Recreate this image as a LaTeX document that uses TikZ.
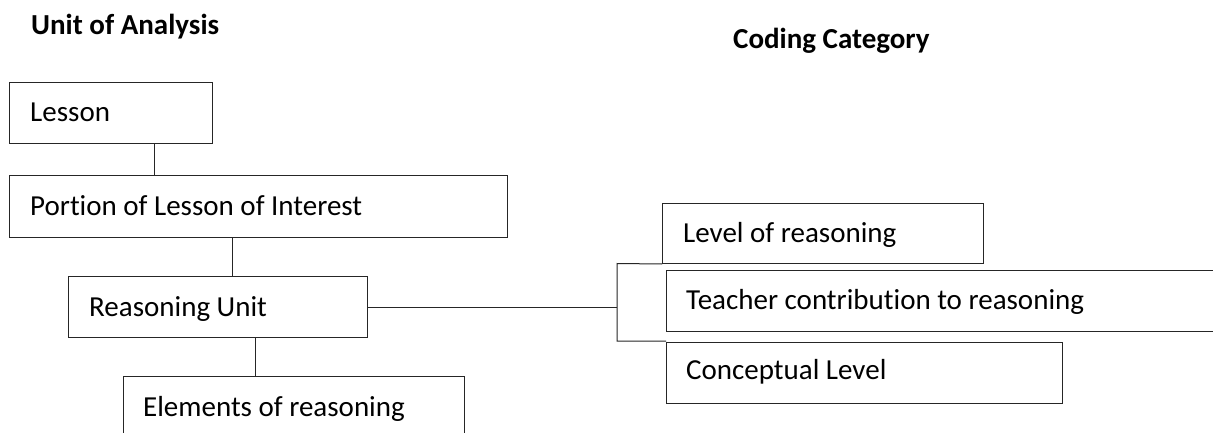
\documentclass[tikz,border=0pt]{standalone}
\usepackage{fontspec}
\setmainfont{Carlito}[Ligatures=NoCommon]
\begin{document}
\begin{tikzpicture}[x=1pt,y=-1pt,
  box/.style={draw=black!85, line width=1pt, inner sep=0pt, anchor=north west},
  lbl/.style={anchor=base west, inner sep=0pt, font=\fontsize{29}{34}\selectfont},
  hdr/.style={anchor=base west, inner sep=0pt, font=\fontsize{29}{34}\selectfont\bfseries},
  conn/.style={draw=black!85, line width=1pt}]
\clip (0,0) rectangle (1213,433);
\fill[white] (0,0) rectangle (1213,433);
% headers
\node[hdr] (h1) at (31,35) {Unit of Analysis};
\node[hdr] (h2) at (733,49) {Coding Category};
% left column boxes
\node[box, minimum width=203pt, minimum height=61pt] (lesson) at (9,82) {};
\node[lbl] (tlesson) at (30,122) {Lesson};
\node[box, minimum width=498pt, minimum height=62pt] (portion) at (9,175) {};
\node[lbl] (tportion) at (30,215) {Portion of Lesson of Interest};
\node[box, minimum width=299pt, minimum height=61pt] (ru) at (68,276) {};
\node[lbl] (tru) at (89,316) {Reasoning Unit};
\node[box, minimum width=341pt, minimum height=80pt] (elem) at (123,376) {};
\node[lbl] (telem) at (143,416) {Elements of reasoning};
% right column boxes
\node[box, minimum width=321pt, minimum height=60pt] (level) at (662,203) {};
\node[lbl] (tlevel) at (683,242) {Level of reasoning};
\node[box, minimum width=570pt, minimum height=61pt] (teacher) at (666,270) {};
\node[lbl] (tteacher) at (686,309) {Teacher contribution to reasoning};
\node[box, minimum width=396pt, minimum height=61pt] (concept) at (666,342) {};
\node[lbl] (tconcept) at (686,379) {Conceptual Level};
% bracket
\coordinate (brt) at (617,263.5);
\coordinate (brb) at (617,341);
\coordinate (brbe) at (666,341);
% connectors
\draw[conn] (lesson.south -| 154,0) -- (portion.north -| 154,0);
\draw[conn] (portion.south -| 232,0) -- (ru.north -| 232,0);
\draw[conn] (ru.south -| 255,0) -- (elem.north -| 255,0);
\draw[conn] (ru.east) -- (ru.east -| brt);
\draw[conn] (level.south west) -- (brt) -- (brb) -- (brbe);
\end{tikzpicture}
\end{document}
